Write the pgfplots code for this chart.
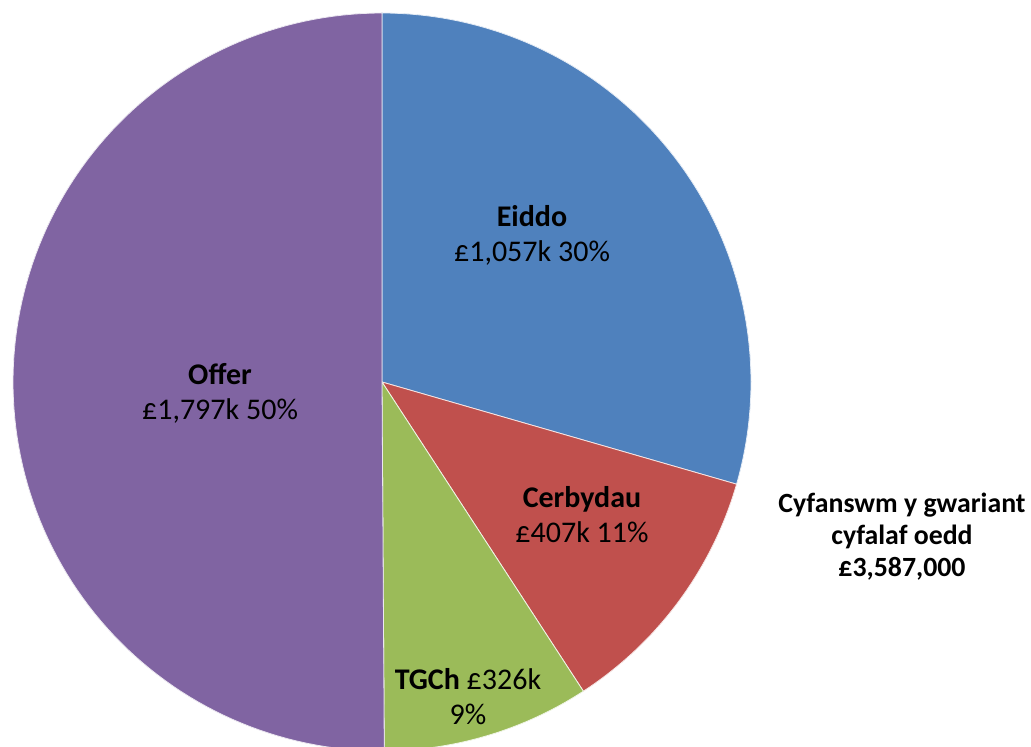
\documentclass[border=0pt]{standalone}
\usepackage{pgfplots}
\pgfplotsset{compat=1.18}
\usepackage{fontspec}
\setmainfont{Carlito}
\definecolor{cEiddo}{HTML}{4F81BD}
\definecolor{cCerb}{HTML}{C0504D}
\definecolor{cTGCh}{HTML}{9BBB59}
\definecolor{cOffer}{HTML}{8064A2}
\tikzset{lbl/.style={font=\fontsize{15}{17.5}\selectfont, align=center, text=black, inner sep=0pt}}
% values (thousands of pounds)
\def\vEiddo{1057}
\def\vCerb{407}
\def\vTGCh{326}
\def\vOffer{1797}
\pgfmathsetmacro{\total}{\vEiddo+\vCerb+\vTGCh+\vOffer}
\pgfmathsetmacro{\aA}{90}
\pgfmathsetmacro{\aB}{\aA-360*(\vEiddo/\total)}
\pgfmathsetmacro{\aC}{\aB-360*(\vCerb/\total)}
\pgfmathsetmacro{\aD}{\aC-360*(\vTGCh/\total)}
\pgfmathsetmacro{\aE}{\aD-360*(\vOffer/\total)}
\begin{document}
\begin{tikzpicture}
\begin{axis}[
  scale only axis, width=515.5pt, height=373.5pt,
  xmin=0, xmax=1031, ymin=-747, ymax=0,
  axis line style={draw=none}, ticks=none,
  clip=true,
]
\addplot[fill=cEiddo, draw=white!85!cEiddo, line width=0.4pt, domain=\aB:\aA, samples=80]
  ({382+369*cos(x)}, {-382+369*sin(x)}) -- (axis cs:382,-382) -- cycle;
\addplot[fill=cCerb, draw=white!85!cCerb, line width=0.4pt, domain=\aC:\aB, samples=40]
  ({382+369*cos(x)}, {-382+369*sin(x)}) -- (axis cs:382,-382) -- cycle;
\addplot[fill=cTGCh, draw=white!85!cTGCh, line width=0.4pt, domain=\aD:\aC, samples=40]
  ({382+369*cos(x)}, {-382+369*sin(x)}) -- (axis cs:382,-382) -- cycle;
\addplot[fill=cOffer, draw=white!85!cOffer, line width=0.4pt, domain=\aE:\aD, samples=120]
  ({382+369*cos(x)}, {-382+369*sin(x)}) -- (axis cs:382,-382) -- cycle;
\node[lbl] at (axis cs:532,-235) {\textbf{Eiddo}\\£1,057k 30\%};
\node[lbl] at (axis cs:582,-515) {\textbf{Cerbydau}\\£407k 11\%};
\node[lbl] at (axis cs:468,-697) {\textbf{TGCh} £326k\\9\%};
\node[lbl] at (axis cs:220,-393) {\textbf{Offer}\\£1,797k 50\%};
\node[lbl, font=\fontsize{13.9}{16}\selectfont\bfseries] at (axis cs:902,-537) {Cyfanswm y gwariant\\cyfalaf oedd\\£3,587,000};
\end{axis}
\end{tikzpicture}
\end{document}
